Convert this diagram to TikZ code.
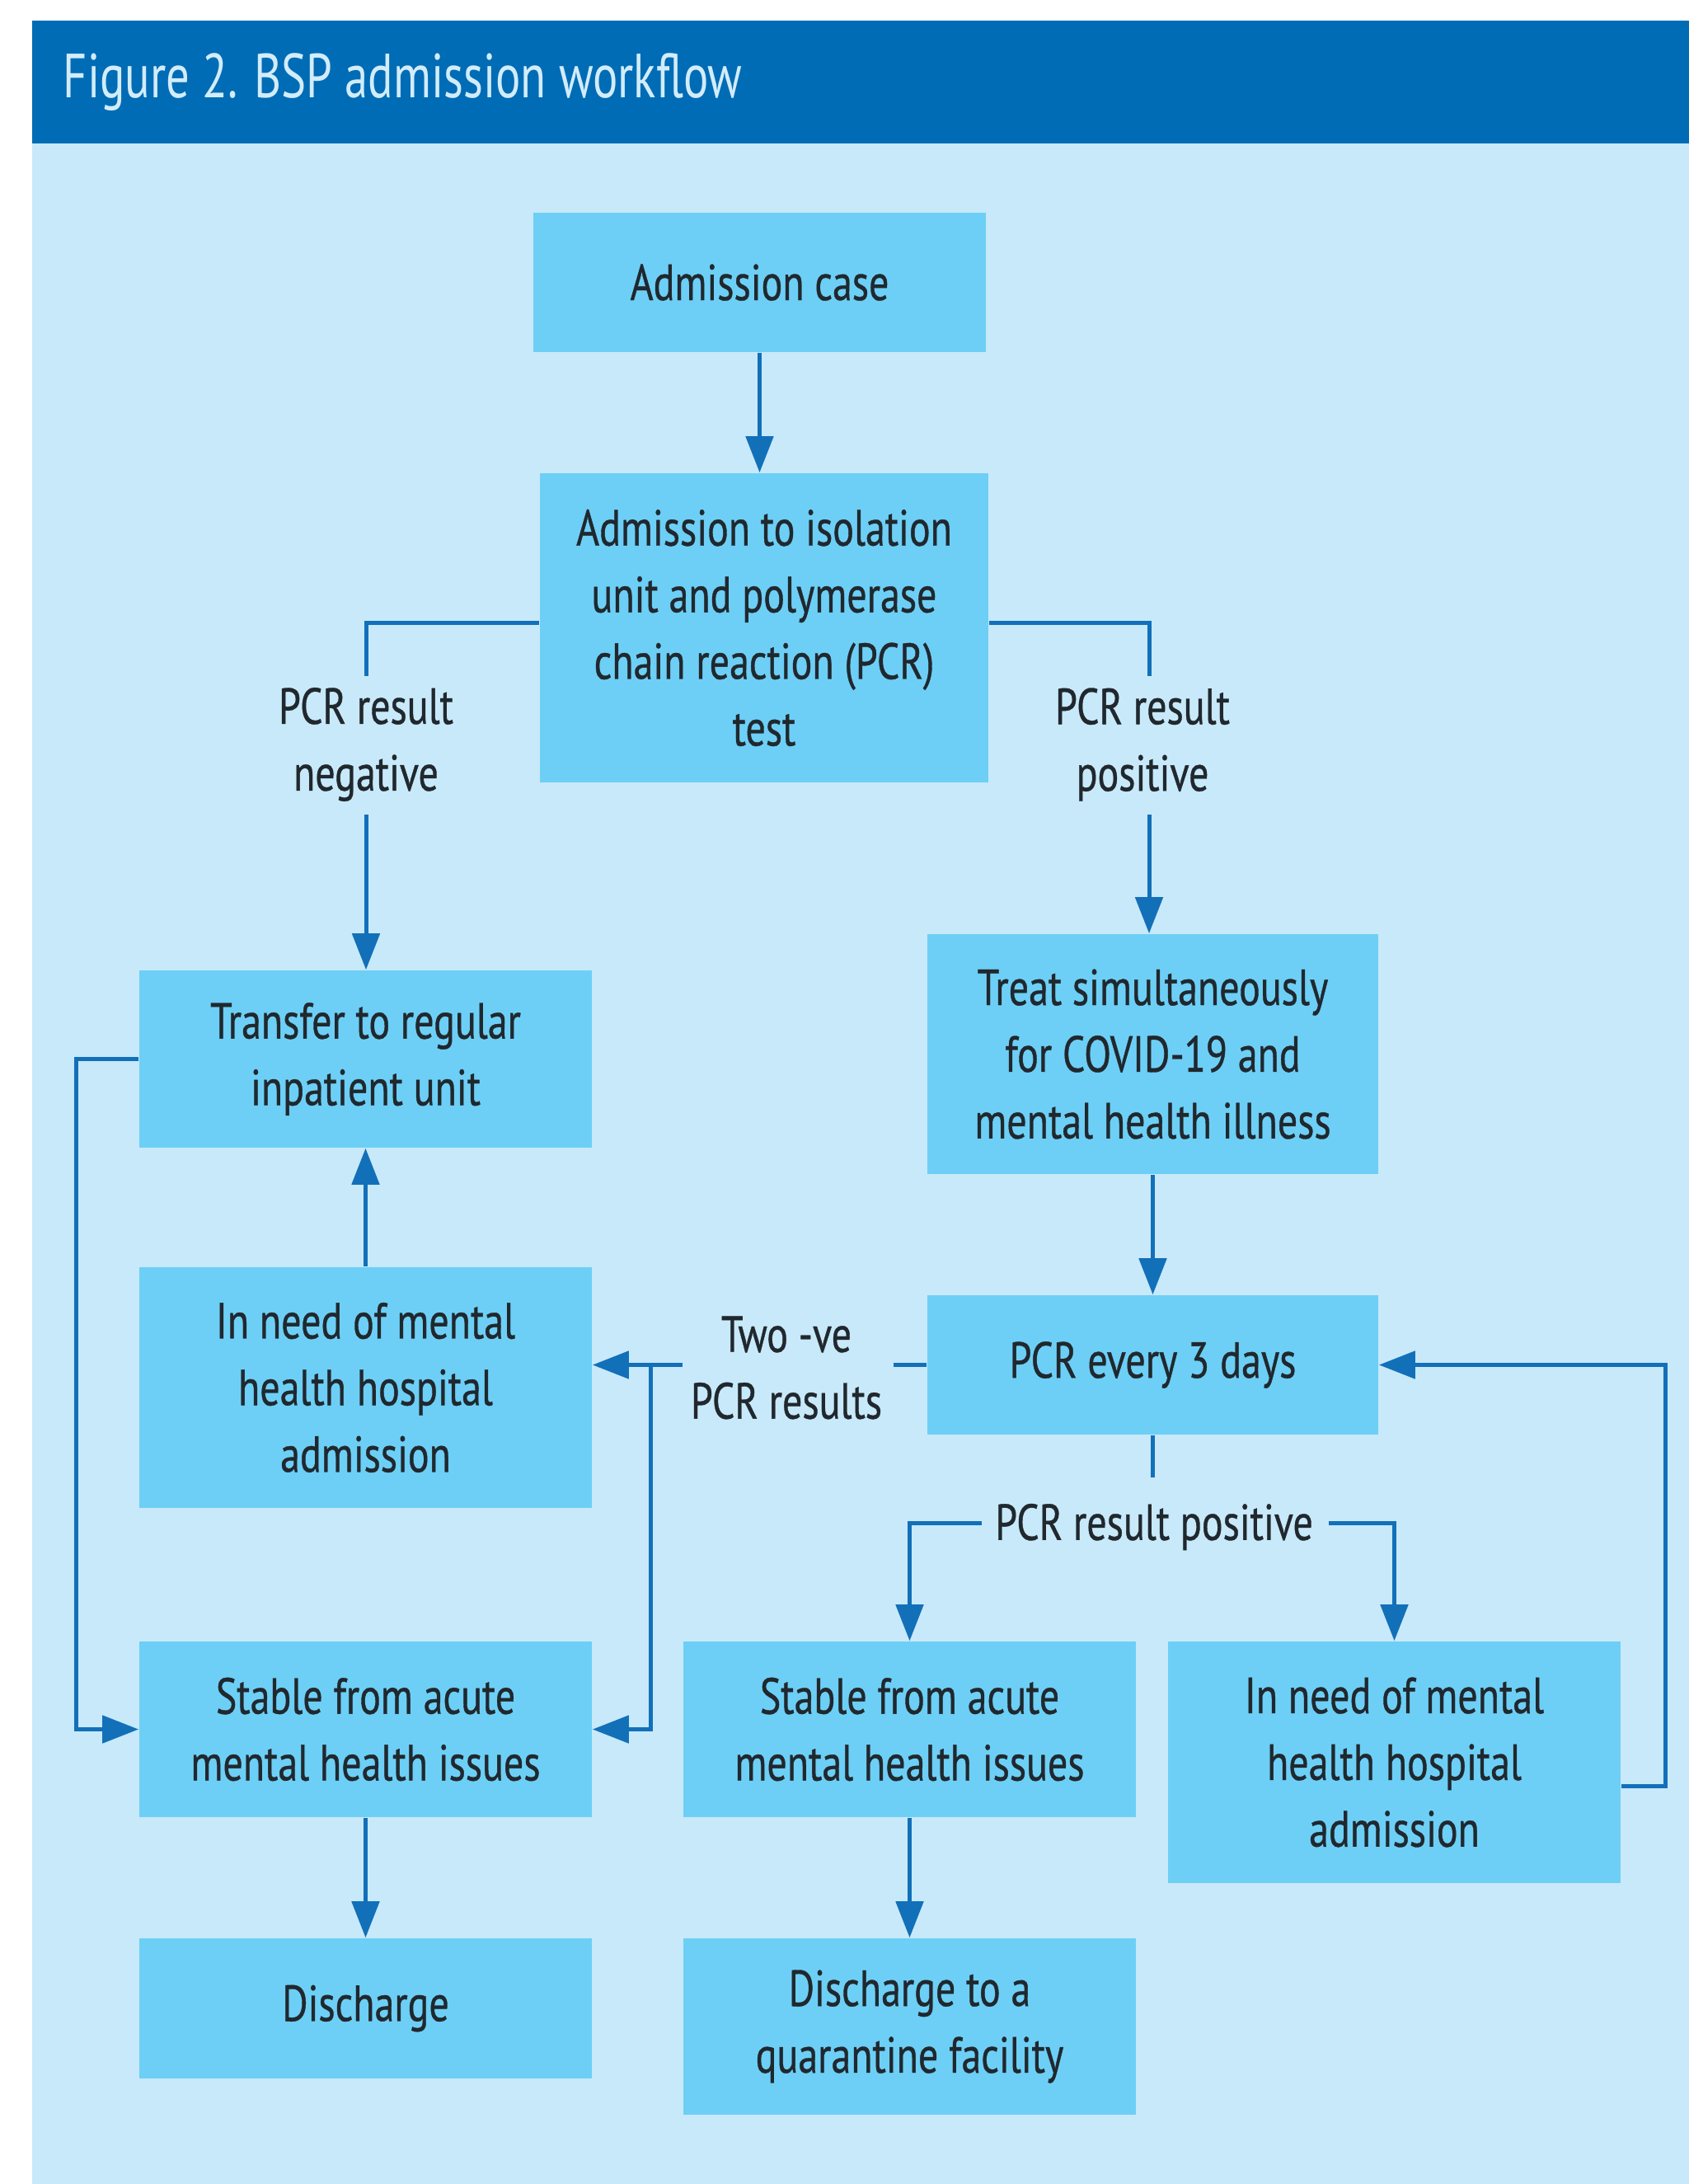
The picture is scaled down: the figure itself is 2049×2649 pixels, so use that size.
\documentclass[tikz,border=0pt]{standalone}
\usepackage{fontspec}
\setmainfont{PT Sans}[FakeStretch=0.78]
\newfontfamily\boxfont{PT Sans}[FakeStretch=0.78,FakeBold=0.6]
\newfontfamily\titlefont{PT Sans}[FakeStretch=0.75]
\usetikzlibrary{arrows.meta}
\definecolor{hdr}{RGB}{0,108,181}
\definecolor{bg}{RGB}{200,233,249}
\definecolor{boxc}{RGB}{109,207,246}
\definecolor{ln}{RGB}{18,112,185}
\definecolor{txt}{RGB}{32,40,46}
\definecolor{ttl}{RGB}{210,236,250}
\begin{document}
\begin{tikzpicture}[x=0.01cm,y=-0.01cm,
 box/.style={fill=boxc, inner sep=0pt, align=center, text=txt, font=\boxfont\fontsize{17.5}{23}\selectfont},
 lbl/.style={inner sep=0pt, align=center, text=txt, font=\boxfont\fontsize{17.5}{23}\selectfont},
 conn/.style={draw=ln, line width=0.05cm},
 arr/.style={conn, -{Triangle[length=0.44cm,width=0.33cm]}}]
\useasboundingbox (0,0) rectangle (2049,2649);
\fill[white] (0,0) rectangle (2049,2649);
\fill[bg] (39,174) rectangle (2049,2649);
\fill[hdr] (39,25) rectangle (2049,174);
\node[anchor=west, text=ttl, font=\titlefont\fontsize{21.5}{26}\selectfont, inner sep=0pt] (title) at (76,100) {Figure 2. BSP admission workflow};

\node[box, minimum width=5.49cm, minimum height=1.69cm] (case) at (921.5,342.5) {Admission case};
\node[box, minimum width=5.44cm, minimum height=3.75cm] (iso) at (927,761.5) {Admission to isolation\\unit and polymerase\\chain reaction (PCR)\\test};
\node[box, minimum width=5.49cm, minimum height=2.15cm] (transfer) at (443.5,1284.5) {Transfer to regular\\inpatient unit};
\node[box, minimum width=5.47cm, minimum height=2.91cm] (treat) at (1398.5,1278.5) {Treat simultaneously\\for COVID-19 and\\mental health illness};
\node[box, minimum width=5.49cm, minimum height=2.92cm] (needL) at (443.5,1683) {In need of mental\\health hospital\\admission};
\node[box, minimum width=5.47cm, minimum height=1.69cm] (pcr3) at (1398.5,1655.5) {PCR every 3 days};
\node[box, minimum width=5.49cm, minimum height=2.13cm] (stableL) at (443.5,2097.5) {Stable from acute\\mental health issues};
\node[box, minimum width=5.49cm, minimum height=2.13cm] (stableR) at (1103.5,2097.5) {Stable from acute\\mental health issues};
\node[box, minimum width=5.49cm, minimum height=2.93cm] (needR) at (1691.5,2137.5) {In need of mental\\health hospital\\admission};
\node[box, minimum width=5.49cm, minimum height=1.70cm] (dis) at (443.5,2436) {Discharge};
\node[box, minimum width=5.49cm, minimum height=2.14cm] (quar) at (1103.5,2458) {Discharge to a\\quarantine facility};

\node[lbl] (neg) at (444,903) {PCR result\\negative};
\node[lbl] (pos) at (1386,903) {PCR result\\positive};
\node[lbl] (twove) at (954,1659) {Two -ve\\PCR results};
\node[lbl] (pos2) at (1400,1852) {PCR result positive};

\coordinate (negT) at (444,820);
\coordinate (negB) at (444,988);
\coordinate (posT) at (1394,820);
\coordinate (posB) at (1394,988);
\coordinate (twoR) at (1084,1655.5);
\coordinate (twoL) at (828,1655.5);
\coordinate (jn) at (789,1655.5);
\coordinate (p3B) at (1398.5,1792);
\coordinate (posL) at (1191,1847);
\coordinate (posR) at (1612,1847);

\draw[arr] (case) -- (case |- iso.north);
\draw[conn] ([yshift=0.06cm]iso.west) -| (negT);
\draw[arr] (negB) -- (negB |- transfer.north);
\draw[conn] ([yshift=0.06cm]iso.east) -| (posT);
\draw[arr] (posB) -- (posB |- treat.north);
\draw[arr] (treat) -- (pcr3);
\draw[arr] (needL) -- (transfer);
\draw[arr] (transfer.west) -- ++(-76,0) |- (stableL.west);
\draw[conn] (pcr3.west) -- (twoR);
\draw[arr] (twoL) -- (twoL -| needL.east);
\draw[arr] (jn) |- (stableL.east);
\draw[conn] (pcr3.south) -- (p3B);
\draw[arr] (posL) -| (stableR.north);
\draw[arr] (posR) -| (needR.north);
\draw[arr] ([yshift=-0.29cm]needR.east) -- ++(54,0) |- (pcr3.east);
\draw[arr] (stableL) -- (dis);
\draw[arr] (stableR) -- (quar);
\end{tikzpicture}
\end{document}
